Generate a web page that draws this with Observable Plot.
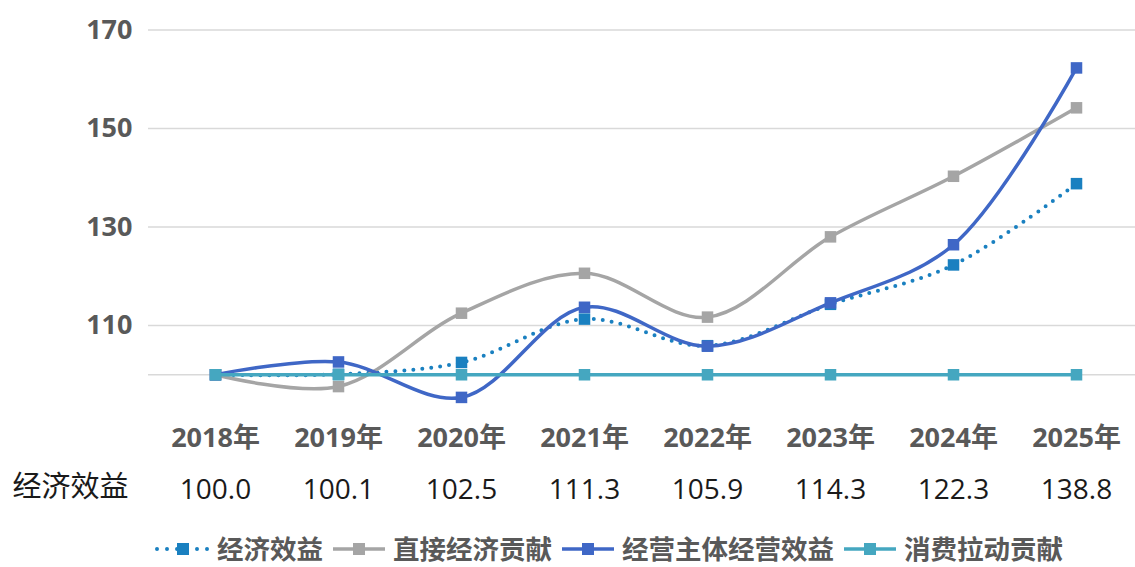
<!DOCTYPE html>
<html>
<head>
<meta charset="utf-8">
<script src="https://cdn.jsdelivr.net/npm/d3@7"></script>
<script src="https://cdn.jsdelivr.net/npm/@observablehq/plot@0.6"></script>
<style>
  html, body { margin: 0; background: #fff; font-family: "Open Sans", "Noto Sans CJK SC", sans-serif; overflow: hidden; }
  #legend { display: flex; align-items: center; margin-left: 153px; height: 32px; margin-top: 21px; white-space: nowrap; }
  .item { display: flex; align-items: center; margin-right: 6px; }
  .item span { font-size: 26.5px; line-height: 32px; font-weight: 700; color: #595959; margin-left: 4px; }
</style>
</head>
<body>
<div id="chart"></div>
<div id="legend"></div>
<script>
// Years on the category axis
const years = ["2018年", "2019年", "2020年", "2021年", "2022年", "2023年", "2024年", "2025年"];

// Index series (2018 = 100)
const econBenefit        = [100.0, 100.1, 102.5, 111.3, 105.9, 114.3, 122.3, 138.8];
const directContribution = [100.0, 97.6, 112.5, 120.6, 111.7, 128.0, 140.3, 154.2];
const operatorBenefit    = [100.0, 102.6, 95.4, 113.7, 105.8, 114.6, 126.4, 162.3];
const consumptionPull    = [100.0, 100.0, 100.0, 100.0, 100.0, 100.0, 100.0, 100.0];

const yTicks = [110, 130, 150, 170];
const seriesNames = ["经济效益", "直接经济贡献", "经营主体经营效益", "消费拉动贡献"];
const seriesValues = [econBenefit, directContribution, operatorBenefit, consumptionPull];
const seriesColors = ["#1a80c0", "#a5a5a5", "#3f67c6", "#45a7c0"];
const rowLabel = "经济效益";

const series = seriesNames.map((name, s) => ({
  name,
  color: seriesColors[s],
  dotted: s === 0,
  rows: years.map((year, i) => ({ year, value: seriesValues[s][i] }))
}));

const font = `"Open Sans", "Noto Sans CJK SC", sans-serif`;

const seriesMarks = series.flatMap(s => [
  Plot.line(s.rows, {
    x: "year", y: "value", stroke: s.color,
    strokeWidth: s.dotted ? 4 : 3.5,
    strokeDasharray: s.dotted ? "0 9" : null,
    strokeLinecap: "round",
    curve: "catmull-rom"
  }),
  Plot.dot(s.rows, { x: "year", y: "value", symbol: "square", r: 6.5, fill: s.color, stroke: "none" })
]);

const chart = Plot.plot({
  width: 1135,
  height: 512,
  marginLeft: 148,
  marginRight: 0,
  marginTop: 10,
  marginBottom: 102,
  style: { fontFamily: font, background: "#fff" },
  x: { type: "point", domain: years, range: [212, 1078], padding: 0, label: null },
  y: { domain: [90, 170], range: [423.5, 29.5], label: null },
  marks: [
    Plot.ruleY(yTicks, { stroke: "#d9d9d9", strokeWidth: 1.5 }),
    Plot.ruleY([100], { stroke: "#d9d9d9", strokeWidth: 1.5 }),
    Plot.axisY(yTicks, { tickSize: 0, tickPadding: 16, fontSize: 27, fontWeight: 700, fill: "#595959" }),
    Plot.axisX({ tickSize: 0, tickPadding: 17, fontSize: 27, fontWeight: 700, fill: "#595959" }),
    ...seriesMarks,
    // value row under the axis
    Plot.text(years, {
      x: d => d, text: (d, i) => econBenefit[i].toFixed(1),
      frameAnchor: "bottom", dy: 88, fontSize: 28, fill: "#1a1a1a"
    }),
    Plot.text([rowLabel], {
      text: d => d, frameAnchor: "bottom-left", dx: -136, dy: 86,
      textAnchor: "start", fontSize: 29, fill: "#1a1a1a"
    })
  ]
});
document.getElementById("chart").appendChild(chart);

// Legend: swatch (line + square marker) followed by series name
const legend = document.getElementById("legend");
series.forEach(s => {
  const item = document.createElement("div");
  item.className = "item";
  const dash = s.dotted ? `stroke-dasharray="0 10" stroke-linecap="round" stroke-width="4"` : `stroke-width="3.5"`;
  item.innerHTML =
    `<svg width="60" height="20"><line x1="4" x2="56" y1="10" y2="10" stroke="${s.color}" ${dash}/>` +
    `<rect x="24" y="4" width="12" height="12" fill="${s.color}"/></svg><span>${s.name}</span>`;
  legend.appendChild(item);
});
</script>
</body>
</html>
